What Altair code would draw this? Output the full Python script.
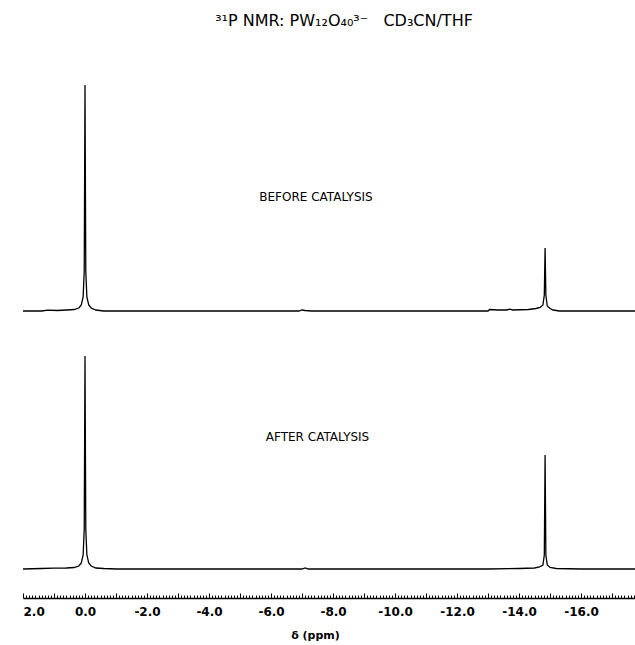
import altair as alt
import pandas as pd

# ---------------- data ----------------
# "Before catalysis" spectrum: chemical shift (ppm) and intensity above baseline
top_ppm = [2.0, 1.4, 1.2, 0.9, 0.6, 0.35, 0.2, 0.12, 0.06, 0.025, 0.0, -0.025, -0.06, -0.12,
           -0.2, -0.35, -0.6, -1.0, -3.0, -6.9, -7.0, -7.1, -7.3, -10.0, -13.0, -13.05,
           -13.3, -13.6, -13.7, -13.8, -14.3, -14.55, -14.68, -14.77, -14.815, -14.84,
           -14.865, -14.91, -15.0, -15.1, -15.3, -16.0, -17.74]
top_int = [0, 0, 0.8, 0.5, 1, 1.5, 3, 6, 14, 40, 226, 40, 14, 6,
           3, 1, 0, 0, 0, 0, 1, 0.5, 0, 0, 0, 1.5,
           1, 1, 1.8, 1, 1.5, 2.5, 3.5, 6, 16, 63,
           16, 5, 2.5, 1, 0, 0, 0]

# "After catalysis" spectrum
bot_ppm = [2.0, 1.4, 1.0, 0.6, 0.35, 0.2, 0.12, 0.06, 0.025, 0.0, -0.025, -0.06, -0.12,
           -0.2, -0.35, -0.6, -1.0, -4.0, -7.0, -7.1, -7.2, -10.0, -13.0, -14.0,
           -14.5, -14.66, -14.77, -14.815, -14.84, -14.865, -14.91, -15.0, -15.2,
           -16.0, -17.74]
bot_int = [0, 0.5, 0.8, 1, 1.5, 3, 6, 14, 40, 213, 40, 14, 6,
           3, 1, 0.5, 0, 0, 0, 1, 0, 0, 0, 0.5,
           1, 2, 4, 14, 114, 14, 4, 1.5, 0.5,
           0, 0]

x_labels = [2.0, 0.0, -2.0, -4.0, -6.0, -8.0, -10.0, -12.0, -14.0, -16.0]
minor_ticks = [round(2.0 - 0.1 * i, 1) for i in range(198)]

ann_top = ["BEFORE CATALYSIS"]
ann_top_ppm = [-7.45]
ann_top_y = [114]
ann_bot = ["AFTER CATALYSIS"]
ann_bot_ppm = [-7.5]
ann_bot_y = [132]

title_text = "\u00b3\u00b9P NMR:\u00a0PW\u2081\u2082O\u2084\u2080\u00b3\u207b\u00a0\u00a0\u00a0CD\u2083CN/THF"

FONT = "DejaVu Sans"

df_top = pd.DataFrame({"ppm": top_ppm, "intensity": top_int})
df_bot = pd.DataFrame({"ppm": bot_ppm, "intensity": bot_int})
df_ann_top = pd.DataFrame({"ppm": ann_top_ppm, "y": ann_top_y, "label": ann_top})
df_ann_bot = pd.DataFrame({"ppm": ann_bot_ppm, "y": ann_bot_y, "label": ann_bot})

W = 612
H = 598
TOP_BASE = 311   # pixel row of the upper baseline
BOT_BASE = 569   # pixel row of the lower baseline

xs = alt.Scale(domain=[2.0, -17.74], nice=False, zero=False)
ys_top = alt.Scale(domain=[TOP_BASE - H, TOP_BASE], nice=False, zero=False)
ys_bot = alt.Scale(domain=[BOT_BASE - H, BOT_BASE], nice=False, zero=False)

# ---------------- upper spectrum ----------------
top_line = alt.Chart(df_top).mark_line(color="black", strokeWidth=1.3).encode(
    x=alt.X("ppm:Q", scale=xs, axis=None),
    y=alt.Y("intensity:Q", scale=ys_top, axis=None),
)
top_ann = alt.Chart(df_ann_top).mark_text(font=FONT, fontSize=12, color="black").encode(
    x=alt.X("ppm:Q", scale=xs, axis=None),
    y=alt.Y("y:Q", scale=ys_top, axis=None),
    text="label:N",
)
title_mark = alt.Chart(pd.DataFrame({"t": [title_text]})).mark_text(
    font=FONT, fontSize=16, color="black"
).encode(x=alt.value(321), y=alt.value(21), text="t:N")

# ---------------- lower spectrum ----------------
bot_line = alt.Chart(df_bot).mark_line(color="black", strokeWidth=1.3).encode(
    x=alt.X(
        "ppm:Q",
        scale=xs,
        axis=alt.Axis(
            values=x_labels,
            labelExpr="replace(format(datum.value, '.1f'), '\u2212', '-')",
            ticks=False,
            tickSize=0,
            labelPadding=8,
            labelFont=FONT,
            labelFontSize=12,
            labelFontWeight="bold",
            labelColor="black",
            domainColor="black",
            domainWidth=1.6,
            grid=False,
            title="\u03b4 (ppm)",
            titleFont=FONT,
            titleFontSize=11,
            titleFontWeight="bold",
            titleColor="black",
            titleX=292,
            titlePadding=12,
        ),
    ),
    y=alt.Y("intensity:Q", scale=ys_bot, axis=None),
)
bot_ann = alt.Chart(df_ann_bot).mark_text(font=FONT, fontSize=12, color="black").encode(
    x=alt.X("ppm:Q", scale=xs, axis=None),
    y=alt.Y("y:Q", scale=ys_bot, axis=None),
    text="label:N",
)
tick_layer = alt.Chart(df_bot).mark_line(opacity=0).encode(
    x=alt.X(
        "ppm:Q",
        scale=xs,
        axis=alt.Axis(
            orient="top",
            offset=-H,
            values=minor_ticks,
            labels=False,
            domain=False,
            grid=False,
            tickColor="black",
            tickWidth=1,
            tickSize={"condition": {"test": "abs(round(datum.value * 10)) % 10 == 0", "value": 5},
                      "value": 3},
            title=None,
        ),
    ),
    y=alt.Y("intensity:Q", scale=ys_bot, axis=None),
)

chart = (
    alt.layer(top_line, top_ann, title_mark, bot_line, bot_ann, tick_layer)
    .resolve_scale(x="independent", y="independent")
    .properties(
        width=W,
        height=H,
        padding={"left": 23, "top": 0, "right": 0, "bottom": 47},
        autosize=alt.AutoSizeParams(type="none"),
        background="white",
    )
    .configure_view(stroke=None)
)

chart.save("out.html", embed_options={"renderer": "svg", "actions": False})
